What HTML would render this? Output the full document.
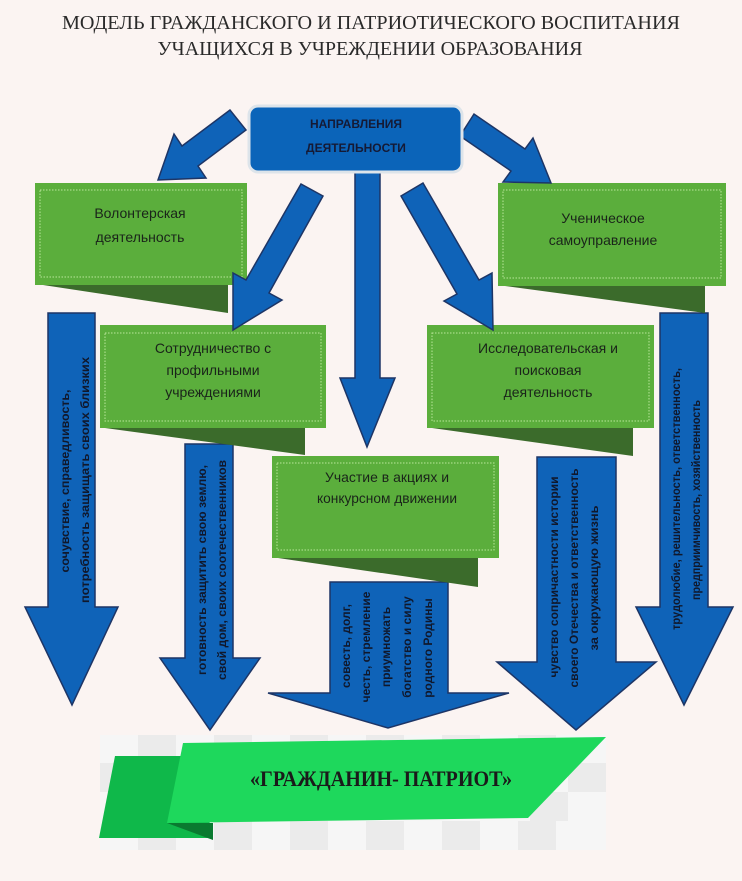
<!DOCTYPE html>
<html><head><meta charset="utf-8"><style>
html,body{margin:0;padding:0;background:#fbf4f2;}
svg{display:block;}
.bt{font-family:"Liberation Sans","DejaVu Sans",sans-serif;font-size:14px;fill:#1a241a;text-anchor:middle;}
.rt{font-family:"Liberation Sans","DejaVu Sans",sans-serif;font-size:12px;font-weight:bold;fill:#10182c;text-anchor:middle;}
</style></head><body>
<svg width="742" height="881" viewBox="0 0 742 881" xmlns="http://www.w3.org/2000/svg">
<rect width="742" height="881" fill="#fbf4f2"/>
<g font-family="'Liberation Serif',serif" font-size="20" fill="#2a2a2a" text-anchor="middle">
<text x="371" y="29" textLength="618" lengthAdjust="spacingAndGlyphs">МОДЕЛЬ ГРАЖДАНСКОГО И ПАТРИОТИЧЕСКОГО ВОСПИТАНИЯ</text>
<text x="370" y="55" textLength="425" lengthAdjust="spacingAndGlyphs">УЧАЩИХСЯ В УЧРЕЖДЕНИИ ОБРАЗОВАНИЯ</text>
</g>
<g fill="#0f63b8" stroke="#1d3566" stroke-width="1.5">
<polygon points="48,313 95,313 95,607 118,607 72,705 25,607 48,607"/>
<polygon points="660,313 708,313 708,607 733,607 684,705 636,607 660,607"/>
<polygon points="185,444 233,444 233,658 260,658 210,730 160,658 185,658"/>
<polygon points="330,582 448,582 448,693 509,693 388,728 268,693 330,693"/>
<polygon points="537,457 616,457 616,662 656,662 576,730 497,662 537,662"/>
<polygon points="355,172 380,172 380,378 395,378 367,447 340,378 355,378"/>
</g>
<g fill="#3b6b2b">
<polygon points="43,285 228,285 228,313"/>
<polygon points="105,428 305,428 305,455"/>
<polygon points="505,286 705,286 705,313"/>
<polygon points="432,428 633,428 633,456"/>
<polygon points="278,558 478,558 478,587"/>
</g>
<g fill="#5bae3c">
<rect x="35" y="183" width="212" height="102"/>
<rect x="100" y="325" width="226" height="103"/>
<rect x="498" y="183" width="228" height="103"/>
<rect x="427" y="325" width="227" height="103"/>
<rect x="272" y="456" width="227" height="102"/>
</g>
<g fill="none" stroke="#b9e59a" stroke-width="1" stroke-dasharray="1.5,1.5">
<rect x="40" y="190" width="202" height="87"/>
<rect x="105" y="333" width="216" height="88"/>
<rect x="503" y="190" width="218" height="88"/>
<rect x="432" y="333" width="217" height="88"/>
<rect x="277" y="463" width="217" height="87"/>
</g>
<text class="bt" x="140" y="218">Волонтерская</text>
<text class="bt" x="140" y="242">деятельность</text>
<text class="bt" x="213" y="353">Сотрудничество с</text>
<text class="bt" x="213" y="375">профильными</text>
<text class="bt" x="213" y="397">учреждениями</text>
<text class="bt" x="603" y="223">Ученическое</text>
<text class="bt" x="603" y="245">самоуправление</text>
<text class="bt" x="548" y="353">Исследовательская и</text>
<text class="bt" x="548" y="375">поисковая</text>
<text class="bt" x="548" y="397">деятельность</text>
<text class="bt" x="387" y="482" textLength="124" lengthAdjust="spacingAndGlyphs">Участие в акциях и</text>
<text class="bt" x="387" y="503" textLength="140" lengthAdjust="spacingAndGlyphs">конкурсном движении</text>
<g fill="#0f63b8" stroke="#1d3566" stroke-width="1.5">
<polygon points="230,110 182,146 174,134 158,180 206,178 198,166 246,130"/>
<polygon points="460,136 511,171 503,182 551,183 533,138 525,149 474,114"/>
<polygon points="301,184 246,280 233,273 233,330 282,300 269,293 323,196"/>
<polygon points="401,196 457,294 444,301 493,330 492,273 479,280 423,183"/>
</g>
<rect x="249" y="106" width="213" height="66" rx="9" fill="#0b64b9" stroke="#dde4ea" stroke-width="3"/>
<g font-family="'Liberation Sans',sans-serif" font-size="12" font-weight="bold" fill="#151a35" text-anchor="middle">
<text x="356" y="128">НАПРАВЛЕНИЯ</text>
<text x="356" y="152">ДЕЯТЕЛЬНОСТИ</text>
</g>
<text class="rt" transform="translate(69,481) rotate(-90)" textLength="183" lengthAdjust="spacingAndGlyphs">сочувствие, справедливость,</text>
<text class="rt" transform="translate(89,480) rotate(-90)" textLength="246" lengthAdjust="spacingAndGlyphs">потребность защищать своих близких</text>
<text class="rt" transform="translate(206,570) rotate(-90)" textLength="210" lengthAdjust="spacingAndGlyphs">готовность защитить свою землю,</text>
<text class="rt" transform="translate(226,570) rotate(-90)" textLength="220" lengthAdjust="spacingAndGlyphs">свой дом, своих соотечественников</text>
<text class="rt" transform="translate(350,646) rotate(-90)">совесть, долг,</text>
<text class="rt" transform="translate(370,647) rotate(-90)">честь, стремление</text>
<text class="rt" transform="translate(390,647) rotate(-90)">приумножать</text>
<text class="rt" transform="translate(411,647) rotate(-90)">богатство и силу</text>
<text class="rt" transform="translate(432,648) rotate(-90)">родного Родины</text>
<text class="rt" transform="translate(558,577) rotate(-90)" textLength="201" lengthAdjust="spacingAndGlyphs">чувство сопричастности истории</text>
<text class="rt" transform="translate(578,578) rotate(-90)" textLength="219" lengthAdjust="spacingAndGlyphs">своего Отечества и ответственность</text>
<text class="rt" transform="translate(598,578) rotate(-90)" textLength="145" lengthAdjust="spacingAndGlyphs">за окружающую жизнь</text>
<text class="rt" transform="translate(680,499) rotate(-90)" textLength="262" lengthAdjust="spacingAndGlyphs">трудолюбие, решительность, ответственность,</text>
<text class="rt" transform="translate(700,500) rotate(-90)" textLength="200" lengthAdjust="spacingAndGlyphs">предприимчивость, хозяйственность</text>
<g>
<rect x="100" y="735" width="506" height="115" fill="#f6f6f6"/>
<g fill="#ebebeb">
<rect x="138" y="735" width="38" height="28"/><rect x="214" y="735" width="38" height="28"/><rect x="290" y="735" width="38" height="28"/><rect x="366" y="735" width="38" height="28"/><rect x="442" y="735" width="38" height="28"/><rect x="518" y="735" width="38" height="28"/>
<rect x="100" y="763" width="38" height="29"/><rect x="568" y="763" width="38" height="29"/>
<rect x="530" y="792" width="38" height="29"/>
<rect x="138" y="821" width="38" height="29"/><rect x="214" y="821" width="38" height="29"/><rect x="290" y="821" width="38" height="29"/><rect x="366" y="821" width="38" height="29"/><rect x="442" y="821" width="38" height="29"/><rect x="518" y="821" width="38" height="29"/>
</g>
<polygon points="115,756 195,756 213,838 99,838" fill="#0fb84a"/>
<polygon points="167,823 213,823 213,840" fill="#0a7a30"/>
<polygon points="183,743 606,737 528,818 167,823" fill="#1ed85c"/>
<text x="381" y="786" font-family="'Liberation Serif',serif" font-size="22" font-weight="bold" fill="#1a1a1a" text-anchor="middle" textLength="262" lengthAdjust="spacingAndGlyphs">«ГРАЖДАНИН- ПАТРИОТ»</text>
</g>
</svg>
</body></html>
